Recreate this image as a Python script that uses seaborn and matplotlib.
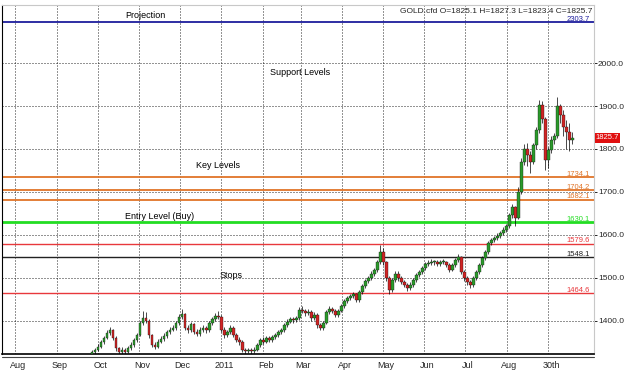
import matplotlib
matplotlib.use('Agg')
import matplotlib.pyplot as plt
import matplotlib.dates as mdates
import numpy as np
import pandas as pd
import seaborn as sns

# Gold CFD candles (open = previous close)
first_open = 1322
closes = [1328, 1333, 1340, 1350, 1360, 1372, 1378, 1360, 1337, 1328,
          1333, 1328, 1337, 1344, 1356, 1367, 1395, 1407, 1400, 1367,
          1345, 1340, 1352, 1358, 1365, 1375, 1380, 1383, 1395, 1410,
          1415, 1384, 1378, 1393, 1375, 1370, 1380, 1384, 1379, 1395,
          1405, 1412, 1410, 1380, 1367, 1374, 1384, 1367, 1356, 1351,
          1333, 1330, 1333, 1330, 1333, 1344, 1356, 1351, 1360, 1356,
          1362, 1367, 1374, 1379, 1391, 1398, 1405, 1402, 1407, 1426,
          1424, 1419, 1421, 1407, 1414, 1391, 1384, 1395, 1421, 1428,
          1424, 1414, 1424, 1435, 1447, 1453, 1458, 1463, 1449, 1467,
          1481, 1493, 1500, 1510, 1519, 1537, 1560, 1537, 1500, 1472,
          1495, 1510, 1500, 1491, 1484, 1477, 1484, 1495, 1507, 1514,
          1523, 1533, 1535, 1537, 1537, 1533, 1537, 1537, 1530, 1519,
          1530, 1542, 1549, 1514, 1500, 1491, 1484, 1500, 1514, 1530,
          1547, 1560, 1581, 1588, 1593, 1598, 1605, 1612, 1621, 1646,
          1665, 1640, 1700, 1770, 1800, 1786, 1770, 1809, 1844, 1902,
          1870, 1774, 1798, 1821, 1830, 1900, 1880, 1850, 1840, 1820,
          1826]
highs = [1333, 1338, 1346, 1356, 1364, 1380, 1386, 1382, 1364, 1340,
         1340, 1338, 1342, 1350, 1360, 1372, 1400, 1424, 1420, 1404,
         1370, 1350, 1358, 1364, 1372, 1380, 1386, 1390, 1400, 1416,
         1428, 1418, 1390, 1398, 1396, 1382, 1386, 1390, 1388, 1400,
         1410, 1418, 1424, 1414, 1386, 1380, 1390, 1388, 1372, 1362,
         1355, 1338, 1338, 1337, 1340, 1348, 1360, 1362, 1366, 1364,
         1368, 1372, 1379, 1384, 1396, 1404, 1410, 1410, 1412, 1432,
         1434, 1428, 1428, 1425, 1420, 1418, 1396, 1400, 1426, 1434,
         1432, 1428, 1428, 1440, 1452, 1458, 1462, 1468, 1466, 1472,
         1486, 1498, 1505, 1516, 1524, 1542, 1577, 1570, 1540, 1504,
         1500, 1515, 1516, 1505, 1496, 1488, 1490, 1500, 1512, 1519,
         1528, 1538, 1542, 1544, 1542, 1542, 1542, 1544, 1540, 1534,
         1535, 1546, 1556, 1552, 1518, 1505, 1496, 1504, 1518, 1534,
         1552, 1565, 1586, 1594, 1598, 1604, 1610, 1618, 1626, 1652,
         1672, 1668, 1712, 1778, 1812, 1815, 1795, 1815, 1850, 1914,
         1912, 1875, 1805, 1830, 1838, 1920, 1905, 1890, 1868, 1860,
         1840]
lows = [1318, 1324, 1330, 1336, 1346, 1357, 1368, 1355, 1330, 1322,
        1324, 1322, 1325, 1333, 1340, 1352, 1364, 1390, 1395, 1360,
        1340, 1334, 1336, 1348, 1354, 1360, 1370, 1376, 1378, 1390,
        1405, 1378, 1372, 1374, 1370, 1364, 1366, 1375, 1372, 1375,
        1390, 1400, 1404, 1374, 1360, 1362, 1370, 1362, 1350, 1345,
        1327, 1324, 1325, 1324, 1326, 1330, 1340, 1346, 1348, 1350,
        1352, 1358, 1363, 1370, 1375, 1386, 1394, 1396, 1398, 1403,
        1418, 1412, 1414, 1400, 1402, 1384, 1380, 1380, 1392, 1416,
        1418, 1408, 1410, 1420, 1430, 1442, 1448, 1454, 1444, 1445,
        1462, 1476, 1488, 1496, 1505, 1514, 1532, 1530, 1494, 1462,
        1468, 1490, 1494, 1485, 1478, 1470, 1472, 1480, 1490, 1502,
        1510, 1518, 1528, 1530, 1530, 1528, 1528, 1532, 1525, 1514,
        1515, 1526, 1538, 1510, 1494, 1484, 1476, 1480, 1496, 1510,
        1526, 1542, 1556, 1576, 1583, 1588, 1592, 1600, 1606, 1616,
        1640, 1620, 1636, 1695, 1762, 1760, 1745, 1765, 1800, 1838,
        1860, 1750, 1755, 1790, 1812, 1826, 1860, 1830, 1800, 1795,
        1812]
start_date, end_date = '2010-09-27', '2011-09-19'

# Horizontal levels (projection line sits at the top of the pane, label shows 2303.7)
level_values = [2095, 1734.1, 1704.2, 1682.1, 1630.1, 1579.6, 1548.1, 1464.6]
level_labels = ['2303.7', '1734.1', '1704.2', '1682.1', '1630.1', '1579.6', '1548.1', '1464.6']
level_colors = ['#1c1c9c', '#e07428', '#e07428', '#e07428', '#22dd22', '#e8383c', '#222222', '#e8383c']
level_widths = [1.3, 1.3, 1.3, 1.3, 2.0, 1.0, 1.0, 1.0]

month_labels = ['Aug', 'Sep', 'Oct', 'Nov', 'Dec', '2011', 'Feb', 'Mar',
                'Apr', 'May', 'Jun', 'Jul', 'Aug', '30th']
y_ticks = [1400, 1500, 1600, 1700, 1800, 1900, 2000]
last_close = '1825.7'
header = 'GOLD.cfd O=1825.1 H=1827.3 L=1823.4 C=1825.7'

notes = [('Projection', 0.208, 0.962), ('Support Levels', 0.453, 0.800),
         ('Key Levels', 0.328, 0.533), ('Entry Level (Buy)', 0.208, 0.388),
         ('Stops', 0.367, 0.218)]

sns.set_theme(style='white')
plt.rcParams['font.family'] = ['Liberation Sans', 'DejaVu Sans']
plt.rcParams['font.size'] = 6.5

fig = plt.figure(figsize=(6.24, 3.78), dpi=100)
ax = fig.add_axes([2 / 624, 24 / 378, 592 / 624, 349 / 378])

dates = pd.date_range(start_date, end_date, periods=len(closes))
x = mdates.date2num(dates)
c = np.array(closes, dtype=float)
o = np.concatenate([[first_open], c[:-1]])
up = c >= o
body_bottom = np.minimum(o, c)
body_height = np.maximum(np.abs(c - o), 1.5)

ax.vlines(x, lows, highs, color='black', linewidth=0.5, zorder=3)
ax.bar(x, body_height, bottom=body_bottom, width=1.9,
       color=np.where(up, '#2b9a2b', '#d02424'), edgecolor='#111111', linewidth=0.25, zorder=4)

for val, lab, col, lw in zip(level_values, level_labels, level_colors, level_widths):
    ax.axhline(val, color=col, linewidth=lw, zorder=2)
    ax.text(0.993, val + 3, lab, color=col, fontsize=5.5, ha='right', va='baseline',
            transform=ax.get_yaxis_transform())

for txt, tx, ty in notes:
    ax.text(tx, ty, txt, transform=ax.transAxes, fontsize=6.5, color='black')

ax.text(0.998, 0.992, header, transform=ax.transAxes, fontsize=6, ha='right', va='top')

# axes ranges
ax.set_xlim(mdates.date2num(pd.Timestamp('2010-07-22')), mdates.date2num(pd.Timestamp('2011-10-05')))
ax.set_ylim(1323, 2135)

month_starts = pd.date_range('2010-08-01', '2011-09-01', freq='MS')
ax.set_xticks(mdates.date2num(month_starts))
ax.set_xticklabels([])
ax.set_xticks(mdates.date2num(month_starts + pd.Timedelta(days=2)), minor=True)
ax.set_xticklabels(month_labels, minor=True)
ax.tick_params(axis='x', which='both', length=0, pad=5, labelsize=6.5)

ax.yaxis.tick_right()
ax.set_yticks(y_ticks)
ax.set_yticklabels([f'{v:.1f}' for v in y_ticks])
ax.tick_params(axis='y', length=2, width=0.6, pad=0.8, labelsize=6, right=True, color='black')

ax.grid(True, which='major', color='black', linestyle=(0, (1.2, 2.4)), linewidth=0.6)
ax.set_axisbelow(True)

for side in ['top', 'right']:
    ax.spines[side].set_color('#c8c8c8')
    ax.spines[side].set_linewidth(0.8)
ax.spines['left'].set_color('black')
ax.spines['left'].set_linewidth(0.8)
ax.spines['bottom'].set_color('black')
ax.spines['bottom'].set_linewidth(1.2)
ax.plot([0, 1], [-0.008, -0.008], transform=ax.transAxes, color='#444444',
        linewidth=0.8, clip_on=False)

ax.text(1.003, float(last_close), last_close, transform=ax.get_yaxis_transform(),
        color='white', fontsize=5.5, ha='left', va='center',
        bbox=dict(boxstyle='square,pad=0.15', facecolor='#e01010', edgecolor='none'))

fig.savefig('out.png', dpi=100)
